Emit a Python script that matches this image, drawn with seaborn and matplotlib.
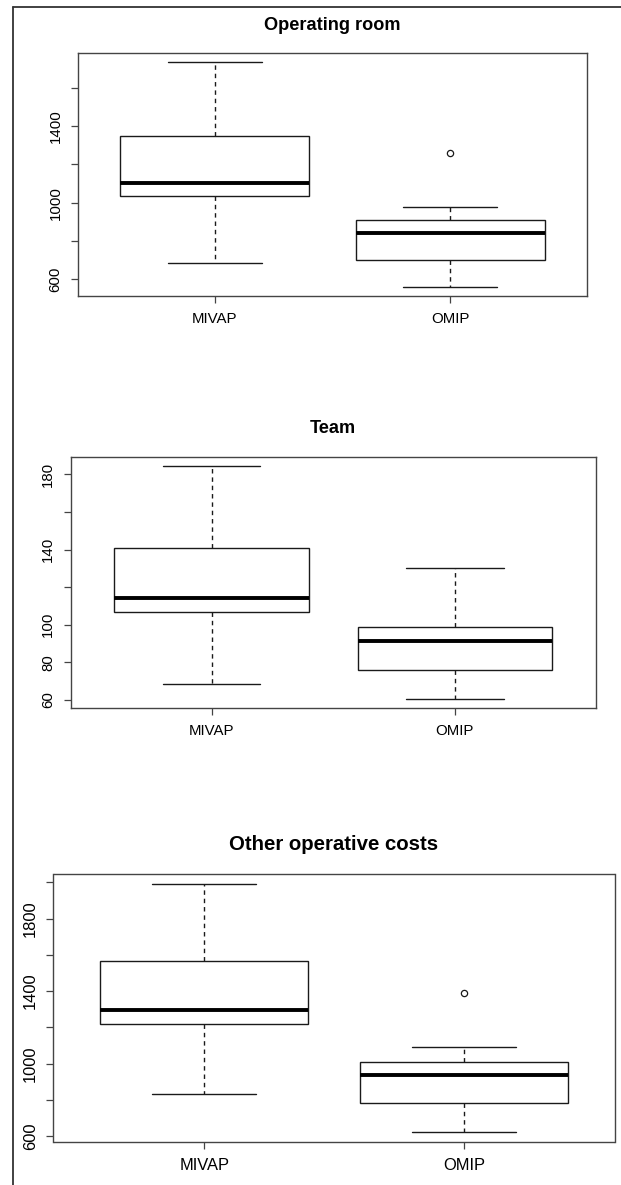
import pandas as pd
import seaborn as sns
import matplotlib.pyplot as plt
from matplotlib.lines import Line2D

groups = ['MIVAP', 'OMIP']

room_mivap = [684, 1034, 1105, 1351, 1735]
room_omip = [560, 640, 701, 780, 840, 880, 908, 980, 1260]

team_mivap = [68.5, 106.9, 114, 140.6, 184.3]
team_omip = [60.7, 75.8, 91.4, 98.7, 130]

other_mivap = [831, 1219, 1298, 1567, 1992]
other_omip = [622, 700, 783, 850, 936, 980, 1011, 1091, 1390]

titles = ['Operating room', 'Team', 'Other operative costs']

room_ticks = [600, 800, 1000, 1200, 1400, 1600]
room_labels = ['600', '', '1000', '', '1400', '']
team_ticks = [60, 80, 100, 120, 140, 160, 180]
team_labels = ['60', '80', '100', '', '140', '', '180']
other_ticks = [600, 800, 1000, 1200, 1400, 1600, 1800, 2000]
other_labels = ['600', '', '1000', '', '1400', '', '1800', '']

sns.set_theme(style='white')
plt.rcParams['font.family'] = ['Liberation Sans', 'DejaVu Sans']

W, H = 621, 1185
fig = plt.figure(figsize=(W / 100, H / 100), dpi=100)

# panel boxes in pixels: left, right, top, bottom; title size, tick size, title centre y
panels = [
    (room_mivap, room_omip, room_ticks, room_labels, (78, 587, 53, 296), 13.1, 10.8, 26),
    (team_mivap, team_omip, team_ticks, team_labels, (70.5, 596, 457, 708), 13.1, 10.8, 428),
    (other_mivap, other_omip, other_ticks, other_labels, (53.5, 614.5, 874, 1142), 14.7, 11.9, 844),
]

for i, (a, b, ticks, labels, (l, r, t, btm), tsize, ksize, ty) in enumerate(panels):
    ax = fig.add_axes([l / W, 1 - btm / H, (r - l) / W, (btm - t) / H])
    df = pd.DataFrame({
        'group': [groups[0]] * len(a) + [groups[1]] * len(b),
        'value': a + b,
    })
    sns.boxplot(data=df, x='group', y='value', ax=ax, order=groups,
                color='white', linecolor='#1a1a1a', linewidth=1.0, width=0.8,
                whiskerprops={'linestyle': (0, (3.2, 2.8))},
                medianprops={'linewidth': 2.8, 'color': 'black'},
                flierprops={'marker': 'o', 'markerfacecolor': 'none',
                            'markeredgecolor': '#1a1a1a', 'markersize': 4.5,
                            'markeredgewidth': 0.9})
    vals = df['value']
    pad = 0.04 * (vals.max() - vals.min())
    ax.set_ylim(vals.min() - pad, vals.max() + pad)
    ax.set_xlim(-0.58, 1.58)
    ax.set_yticks(ticks)
    ax.set_yticklabels(labels, rotation=90, va='center', fontsize=ksize, color='black')
    ax.set_xticks([0, 1])
    ax.set_xticklabels(groups, fontsize=ksize, color='black')
    ax.tick_params(axis='y', length=5, width=0.9, color='#444444',
                   direction='out', pad=6, left=True)
    ax.tick_params(axis='x', length=5, width=0.9, color='#444444',
                   direction='out', pad=6.5, bottom=True)
    ax.set_xlabel('')
    ax.set_ylabel('')
    for s in ax.spines.values():
        s.set_visible(True)
        s.set_color('#444444')
        s.set_linewidth(1.0)
    fig.text((l + r) / 2 / W, 1 - ty / H, titles[i], ha='center',
             va='center', fontsize=tsize, fontweight='bold', color='black')

# outer frame (cut at the right and bottom edges)
fig.add_artist(Line2D([13 / W, 13 / W], [0, 1 - 6.5 / H], color='#333333', linewidth=1.3))
fig.add_artist(Line2D([13 / W, 1], [1 - 6.5 / H, 1 - 6.5 / H], color='#333333', linewidth=1.3))

fig.savefig('out.png', dpi=100)
